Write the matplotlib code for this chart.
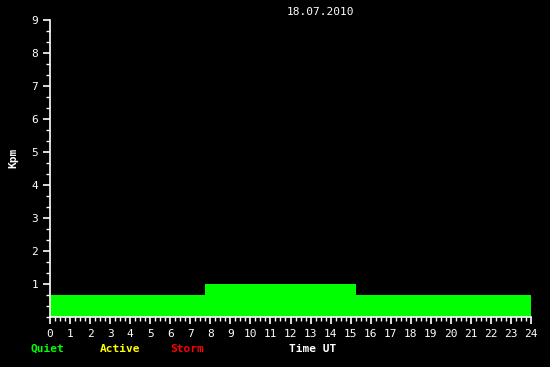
import matplotlib
matplotlib.use("Agg")
import matplotlib.pyplot as plt
from matplotlib.ticker import MultipleLocator

# Kpm step values (hour edges and level)
edges = [0, 7.75, 15.25, 24]
kpm = [0.67, 1.0, 0.67]
date = "18.07.2010"
legend = [("Quiet", "#00ff00"), ("Active", "#ffff00"), ("Storm", "#ff0000")]

fig = plt.figure(figsize=(5.5, 3.67), dpi=100, facecolor="black")
ax = fig.add_axes([50 / 550, 50 / 367, 481 / 550, 297 / 367], facecolor="black")

for i in range(len(kpm)):
    ax.bar(edges[i], kpm[i], width=edges[i + 1] - edges[i], align="edge",
           color="#00ff00", linewidth=0)

ax.set_xlim(0, 24)
ax.set_ylim(0, 9)
ax.xaxis.set_major_locator(MultipleLocator(1))
ax.xaxis.set_minor_locator(MultipleLocator(0.25))
ax.yaxis.set_minor_locator(MultipleLocator(1 / 3))
ax.set_yticks(range(1, 10))
ax.set_yticklabels([str(v) for v in range(1, 10)])

for s in ["top", "right"]:
    ax.spines[s].set_visible(False)
for s in ["left", "bottom"]:
    ax.spines[s].set_color("white")
    ax.spines[s].set_linewidth(1.2)

font = "DejaVu Sans Mono"
ax.tick_params(which="major", colors="white", length=5, width=1.2,
               labelsize=8, pad=3.5)
ax.tick_params(which="minor", colors="white", length=3, width=1)
for lab in ax.get_xticklabels() + ax.get_yticklabels():
    lab.set_family(font)

fig.text(13 / 550, 1 - 158 / 367, "Kpm", rotation=90, color="white",
         fontsize=8, fontweight="bold", family=font, ha="center", va="center")
fig.text(320 / 550, 1 - 12 / 367, date, color="white", fontsize=8,
         family=font, ha="center", va="center")

xs = [47, 120, 187]
for (name, col), x in zip(legend, xs):
    fig.text(x / 550, 1 - 349 / 367, name, color=col, fontsize=8,
             fontweight="bold", family=font, ha="center", va="center")
fig.text(313 / 550, 1 - 349 / 367, "Time UT", color="white", fontsize=8,
         fontweight="bold", family=font, ha="center", va="center")

fig.savefig("out.png", dpi=100, facecolor="black")
